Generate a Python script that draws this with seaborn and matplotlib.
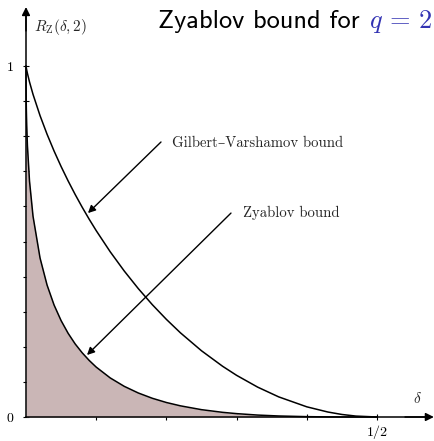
import matplotlib
matplotlib.use("Agg")
import matplotlib.pyplot as plt
import seaborn as sns
import pandas as pd

# Relative distance delta and the two rate bounds for binary codes (q = 2)
delta = [0, 0.0001, 0.0003, 0.0005, 0.001, 0.002, 0.005, 0.01, 0.02, 0.03,
         0.04, 0.05, 0.06, 0.07, 0.08, 0.09, 0.10, 0.12, 0.14, 0.16, 0.18,
         0.20, 0.22, 0.25, 0.28, 0.30, 0.33, 0.36, 0.40, 0.43, 0.45, 0.47, 0.50]
gilbert_varshamov = [1.0, 0.9985, 0.9961, 0.9938, 0.9886, 0.9792, 0.9546,
                     0.9192, 0.8586, 0.8056, 0.7577, 0.7136, 0.6726, 0.6341,
                     0.5978, 0.5635, 0.5310, 0.4706, 0.4158, 0.3657, 0.3199,
                     0.2781, 0.2398, 0.1887, 0.1446, 0.1187, 0.0851, 0.0573,
                     0.0290, 0.0142, 0.0072, 0.0026, 0.0]
zyablov = [1.0, 0.939, 0.900, 0.875, 0.831, 0.774, 0.672, 0.572, 0.453, 0.376,
           0.319, 0.2746, 0.2385, 0.2083, 0.1830, 0.1612, 0.1422, 0.1113,
           0.0873, 0.0684, 0.0533, 0.0413, 0.0318, 0.0209, 0.0133, 0.0096,
           0.0055, 0.0029, 0.0010, 0.0003, 0.0001, 0.0, 0.0]

x_ticks = [0.1, 0.2, 0.3, 0.4, 0.5]
x_tick_labels = ["", "", "", "", "$1/2$"]
y_ticks = [0.0, 0.1, 0.2, 0.3, 0.4, 0.5, 0.6, 0.7, 0.8, 0.9, 1.0]
y_tick_labels = ["$0$", "", "", "", "", "", "", "", "", "", "$1$"]

df = pd.DataFrame({"delta": delta, "gv": gilbert_varshamov, "zy": zyablov})

sns.set_theme(style="white")
plt.rcParams["mathtext.fontset"] = "cm"
plt.rcParams["font.family"] = ["cmr10", "DejaVu Serif"]
plt.rcParams["axes.unicode_minus"] = False

fig = plt.figure(figsize=(4.35, 4.41), dpi=100)
ax = fig.add_axes([0, 0, 1, 1])
ax.set_facecolor("white")

# 702 px per unit horizontally, 351 px per unit vertically
ax.set_xlim(-26 / 702, 409 / 702)
ax.set_ylim(-24 / 351, 417 / 351)

ax.fill_between(df["delta"], 0, df["zy"], color="#cab6b6", lw=0, zorder=1)
sns.lineplot(data=df, x="delta", y="gv", ax=ax, color="black", lw=1.1,
             estimator=None, sort=False, zorder=3)
sns.lineplot(data=df, x="delta", y="zy", ax=ax, color="black", lw=1.1,
             estimator=None, sort=False, zorder=3)
ax.set_xlabel("")
ax.set_ylabel("")

# Axes drawn through the origin with arrow heads
for side in ["top", "right"]:
    ax.spines[side].set_visible(False)
ax.spines["left"].set_position(("data", 0))
ax.spines["bottom"].set_position(("data", 0))
ax.spines["left"].set_bounds(0, 1.16)
ax.spines["bottom"].set_bounds(0, 0.575)
for side in ["left", "bottom"]:
    ax.spines[side].set_linewidth(1.1)
    ax.spines[side].set_color("black")
    ax.spines[side].set_zorder(4)
ax.annotate("", xy=(0, 1.168), xytext=(0, 1.10),
            arrowprops=dict(arrowstyle="-|>", color="black", lw=1.1,
                            mutation_scale=12, shrinkA=0, shrinkB=0), zorder=5)
ax.annotate("", xy=(0.581, 0), xytext=(0.54, 0),
            arrowprops=dict(arrowstyle="-|>", color="black", lw=1.1,
                            mutation_scale=12, shrinkA=0, shrinkB=0), zorder=5)

ax.set_xticks(x_ticks)
ax.set_xticklabels(x_tick_labels)
ax.set_yticks(y_ticks)
ax.set_yticklabels(y_tick_labels)
ax.tick_params(axis="both", direction="inout", length=5, width=0.8,
               colors="black", labelsize=10, left=True, bottom=True)
ax.tick_params(axis="x", pad=2)
ax.tick_params(axis="y", pad=6)

# Axis names
ax.text(0.0114, 1.0997, r"$R_{\mathrm{Z}}(\delta,2)$", fontsize=11,
        ha="left", va="baseline")
ax.text(0.558, 0.04, r"$\delta$", fontsize=11, ha="center", va="baseline")

# Curve annotations
arrow_kw = dict(arrowstyle="-|>", color="black", lw=1.0, mutation_scale=11,
                shrinkA=0, shrinkB=0)
ax.annotate("", xy=(0.0883, 0.581), xytext=(0.1923, 0.7835),
            arrowprops=arrow_kw, zorder=5)
ax.text(0.208, 0.769, "Gilbert–Varshamov bound", fontsize=10.6,
        ha="left", va="baseline")
ax.annotate("", xy=(0.0869, 0.1766), xytext=(0.292, 0.581),
            arrowprops=arrow_kw, zorder=5)
ax.text(0.309, 0.570, "Zyablov bound", fontsize=10.6, ha="left",
        va="baseline")

# Title
fig.text(360 / 435, 1 - 28 / 441, "Zyablov bound for", fontsize=19,
         family=["cmss10", "DejaVu Sans"], ha="right", va="baseline",
         color="black")
fig.text(369 / 435, 1 - 28 / 441, r"$q\,=\,2$", fontsize=19, ha="left",
         va="baseline", color="#3333b3")

fig.savefig("out.png", dpi=100)
